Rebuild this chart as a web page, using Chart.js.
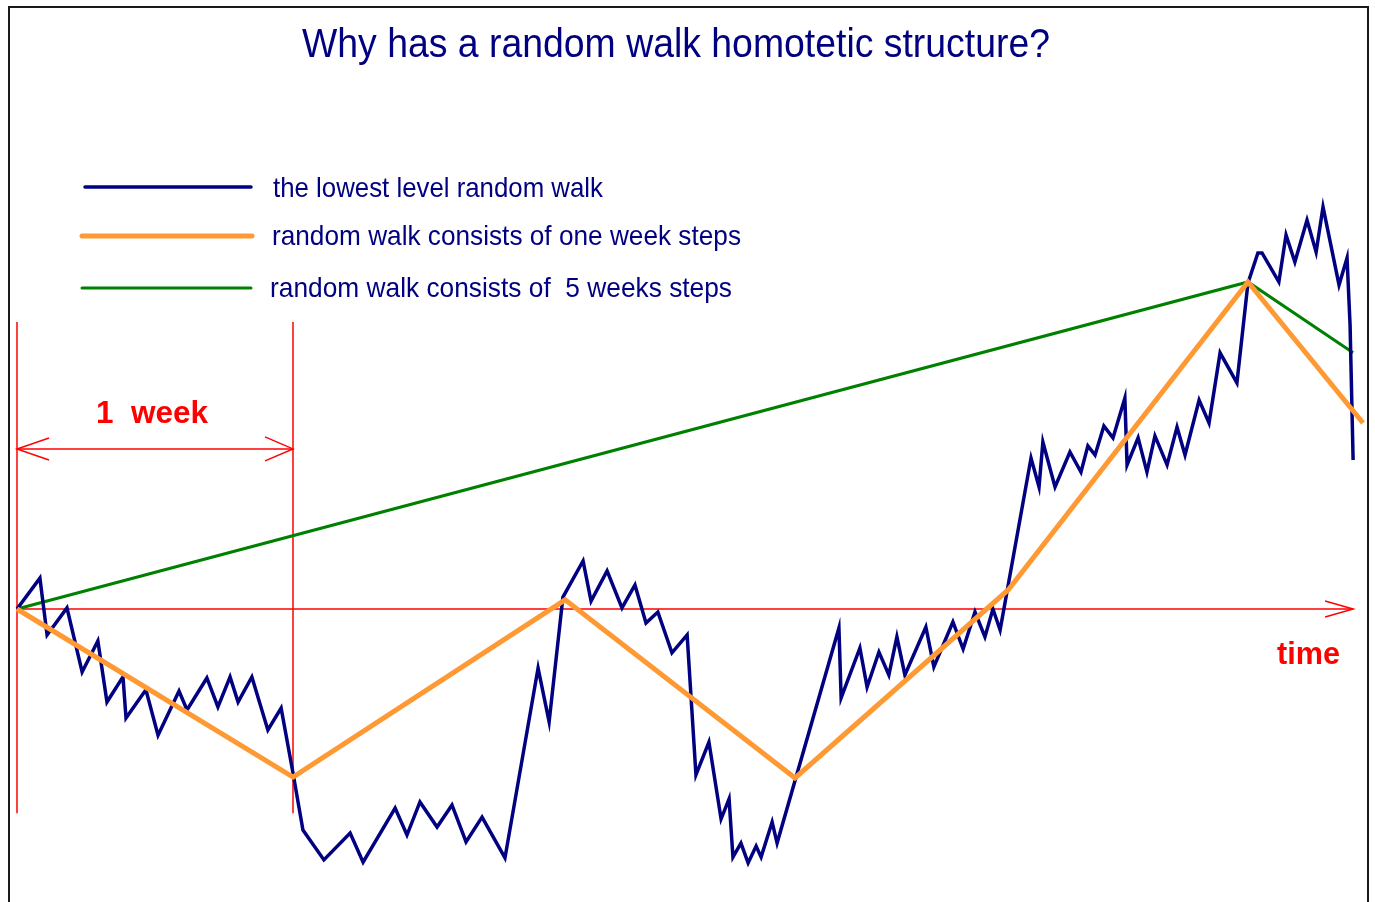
<!DOCTYPE html>
<html>
<head>
<meta charset="utf-8">
<title>Random walk homotetic structure</title>
<script src="https://cdn.jsdelivr.net/npm/chart.js@4.4.1/dist/chart.umd.min.js"></script>
<style>
  html, body { margin: 0; padding: 0; background: #fff; }
  #walk-chart { display: block; }
</style>
</head>
<body>
<canvas id="walk-chart" width="1375" height="902"></canvas>
<script>
// time is in 1/100 of a week (100 = one week), level in the same units

const walkTimes = [
    0, 8.3, 10.9, 18.1, 23.6, 29.3, 32.6, 38.4, 39.5, 46.7,
    51.1, 58.7, 61.6, 68.8, 72.8, 77.2, 80.1, 85.1, 90.9, 95.7,
    100, 103.6, 111.2, 120.7, 125.4, 137.0, 141.3, 146.0, 152.2, 157.6,
    162.7, 168.5, 176.8, 188.8, 192.8, 197.8, 205.1, 208.0, 213.8, 219.2,
    223.9, 227.9, 232.2, 237.3, 242.8, 246.0, 250.7, 255.1, 258.0, 259.4,
    262.3, 264.9, 267.8, 269.6, 273.6, 275.4, 297.8, 298.6, 305.4, 308.0,
    312.3, 315.9, 318.8, 321.7, 329.3, 332.2, 339.1, 342.8, 347.1, 350.7,
    353.6, 356.2, 367.4, 370.3, 371.7, 376.1, 381.5, 385.5, 388.0, 390.6,
    393.8, 397.1, 401.4, 402.2, 406.2, 409.4, 412.3, 416.7, 420.3, 423.2,
    428.3, 431.9, 435.9, 442.0, 446.0, 449.6, 451.1, 457.2, 459.8, 463.0,
    467.4, 470.7, 473.2, 479.0, 481.9, 483.0, 484.1
];
const walkLevels = [
    0, 11.2, -9.4, 0.4, -22.8, -11.6, -33.7, -24.6, -39.5, -29.3,
    -45.7, -29.7, -36.6, -25.0, -35.5, -24.6, -33.7, -24.6, -43.8, -35.9,
    -59.4, -80.1, -90.9, -81.2, -91.7, -72.1, -81.9, -69.9, -79.0, -71.0,
    -84.4, -75.4, -90.2, -21.4, -40.9, 4.3, 17.4, 2.9, 13.8, 0.4,
    8.7, -5.1, -1.1, -15.9, -9.4, -60.1, -48.2, -76.1, -68.8, -89.9,
    -84.8, -92.0, -85.9, -89.9, -77.2, -84.8, -6.9, -32.2, -14.1, -28.3,
    -15.6, -23.9, -10.1, -23.9, -6.5, -21.0, -4.7, -14.5, -1.1, -10.1,
    0, -7.6, 54.7, 44.2, 60.5, 44.2, 56.9, 49.6, 59.1, 55.8,
    66.3, 62.0, 76.4, 52.2, 62.0, 49.6, 62.7, 52.2, 65.9, 55.8,
    75.7, 67.4, 92.8, 81.9, 118.1, 129.0, 129.0, 118.5, 135.5, 125.7,
    140.9, 129.3, 145.7, 117.4, 127.2, 102.9, 54.0
];

const weekTimes  = [0, 100, 198.6, 281.9, 359.1, 446.0, 487.7];
const weekLevels = [0, -60.9, 3.3, -61.2, 6.9, 118.5, 67.4];

const fiveWeekTimes  = [0, 446.0, 484.1];
const fiveWeekLevels = [0, 118.5, 92.8];

const seriesNames = [
    'the lowest level random walk',
    'random walk consists of one week steps',
    'random walk consists of  5 weeks steps'
];
const chartTitle = 'Why has a random walk homotetic structure?';
const weekLabel  = '1  week';
const timeLabel  = 'time';
const weekMarks  = [0, 100];   // borders of the first week
const axisEnd    = 484.1;      // where the time arrow stops

const NAVY   = '#000080';
const ORANGE = '#FF9933';
const GREEN  = '#008000';
const RED    = '#FF0000';

const toPoints = (xs, ys) => xs.map((x, i) => ({ x, y: ys[i] }));

// ── Helpers ──────────────────────────────────────────────────────────────────
function line(ctx, x1, y1, x2, y2) {
    ctx.beginPath();
    ctx.moveTo(x1, y1);
    ctx.lineTo(x2, y2);
    ctx.stroke();
}

function chevron(ctx, x, y, dx, dy) {
    ctx.beginPath();
    ctx.moveTo(x + dx, y - dy);
    ctx.lineTo(x, y);
    ctx.lineTo(x + dx, y + dy);
    ctx.stroke();
}

// the old picture uses narrow lettering, so squeeze text to a given width
function narrowText(ctx, text, x, y, width, align) {
    const w = ctx.measureText(text).width;
    const sx = width / w;
    ctx.save();
    ctx.translate(align === 'center' ? x - width / 2 : x, y);
    ctx.scale(sx, 1);
    ctx.textAlign = 'left';
    ctx.fillText(text, 0, 0);
    ctx.restore();
}

// ── Red time axis and the "1 week" marker ────────────────────────────────────
const redMarks = {
    id: 'redMarks',
    beforeDatasetsDraw(chart) {
        const { ctx, scales: { x, y } } = chart;
        const y0 = y.getPixelForValue(0);
        const xEnd = x.getPixelForValue(axisEnd);
        ctx.save();
        ctx.strokeStyle = RED;
        ctx.lineWidth = 1.5;

        line(ctx, x.getPixelForValue(0), y0, xEnd, y0);
        chevron(ctx, xEnd, y0, -28, 8);

        const top = y.getPixelForValue(104);
        const bottom = y.getPixelForValue(-74);
        weekMarks.forEach(t => {
            const px = x.getPixelForValue(t);
            line(ctx, px, top, px, bottom);
        });

        const ya = y.getPixelForValue(58);
        const xa = x.getPixelForValue(weekMarks[0]);
        const xb = x.getPixelForValue(weekMarks[1]);
        line(ctx, xa, ya, xb, ya);
        chevron(ctx, xa, ya, 32, 11);
        chevron(ctx, xb, ya, -28, 12);

        ctx.fillStyle = RED;
        ctx.font = 'bold 32px "Liberation Sans", Arial, sans-serif';
        ctx.textBaseline = 'alphabetic';
        narrowText(ctx, weekLabel, 96, 423, 112);
        ctx.font = 'bold 31px "Liberation Sans", Arial, sans-serif';
        narrowText(ctx, timeLabel, 1277, 664, 63);
        ctx.restore();
    }
};

// ── Frame, title and the hand made legend ────────────────────────────────────
const framing = {
    id: 'framing',
    beforeDraw(chart) {
        const { ctx } = chart;
        ctx.save();
        ctx.fillStyle = '#fff';
        ctx.fillRect(0, 0, chart.width, chart.height);
        ctx.fillStyle = '#1a1a1a';
        ctx.fillRect(8, 6, 1361, 2);
        ctx.fillRect(8, 6, 2, 900);
        ctx.fillRect(1367, 6, 2, 900);

        ctx.fillStyle = NAVY;
        ctx.font = '40px "Liberation Sans", Arial, sans-serif';
        narrowText(ctx, chartTitle, 676, 57, 748, 'center');
        ctx.restore();
    },
    afterDraw(chart) {
        const { ctx } = chart;
        const rows = [
            { y: 187, x1: 85, x2: 251, tx: 273, base: 197, w: 330 },
            { y: 236, x1: 82, x2: 252, tx: 272, base: 245, w: 469 },
            { y: 288, x1: 82, x2: 251, tx: 270, base: 297, w: 462 }
        ];
        ctx.save();
        ctx.font = '28px "Liberation Sans", Arial, sans-serif';
        chart.data.datasets.forEach((ds, i) => {
            const r = rows[i];
            ctx.strokeStyle = ds.borderColor;
            ctx.lineWidth = ds.borderWidth;
            ctx.lineCap = 'round';
            line(ctx, r.x1, r.y, r.x2, r.y);
            ctx.fillStyle = NAVY;
            narrowText(ctx, ds.label, r.tx, r.base, r.w);
        });
        ctx.restore();
    }
};

// ── Chart ────────────────────────────────────────────────────────────────────
new Chart(document.getElementById('walk-chart'), {
    type: 'line',
    data: {
        datasets: [
            {
                label: seriesNames[0],
                data: toPoints(walkTimes, walkLevels),
                borderColor: NAVY,
                borderWidth: 3.5,
                order: 1,
            },
            {
                label: seriesNames[1],
                data: toPoints(weekTimes, weekLevels),
                borderColor: ORANGE,
                borderWidth: 5,
                order: 0,
            },
            {
                label: seriesNames[2],
                data: toPoints(fiveWeekTimes, fiveWeekLevels),
                borderColor: GREEN,
                borderWidth: 3,
                order: 2,
            },
        ],
    },
    options: {
        responsive: false,
        animation: false,
        layout: { padding: 0 },
        elements: {
            point: { radius: 0, hoverRadius: 0 },
            line:  { tension: 0, fill: false, borderJoinStyle: 'miter' },
        },
        plugins: {
            legend:  { display: false },
            title:   { display: false },
            tooltip: { enabled: false },
        },
        scales: {
            x: { type: 'linear', min: -6.16, max: 492.03, display: false },
            y: { type: 'linear', min: -106.16, max: 220.65, display: false },
        },
    },
    plugins: [framing, redMarks],
});
</script>
</body>
</html>
